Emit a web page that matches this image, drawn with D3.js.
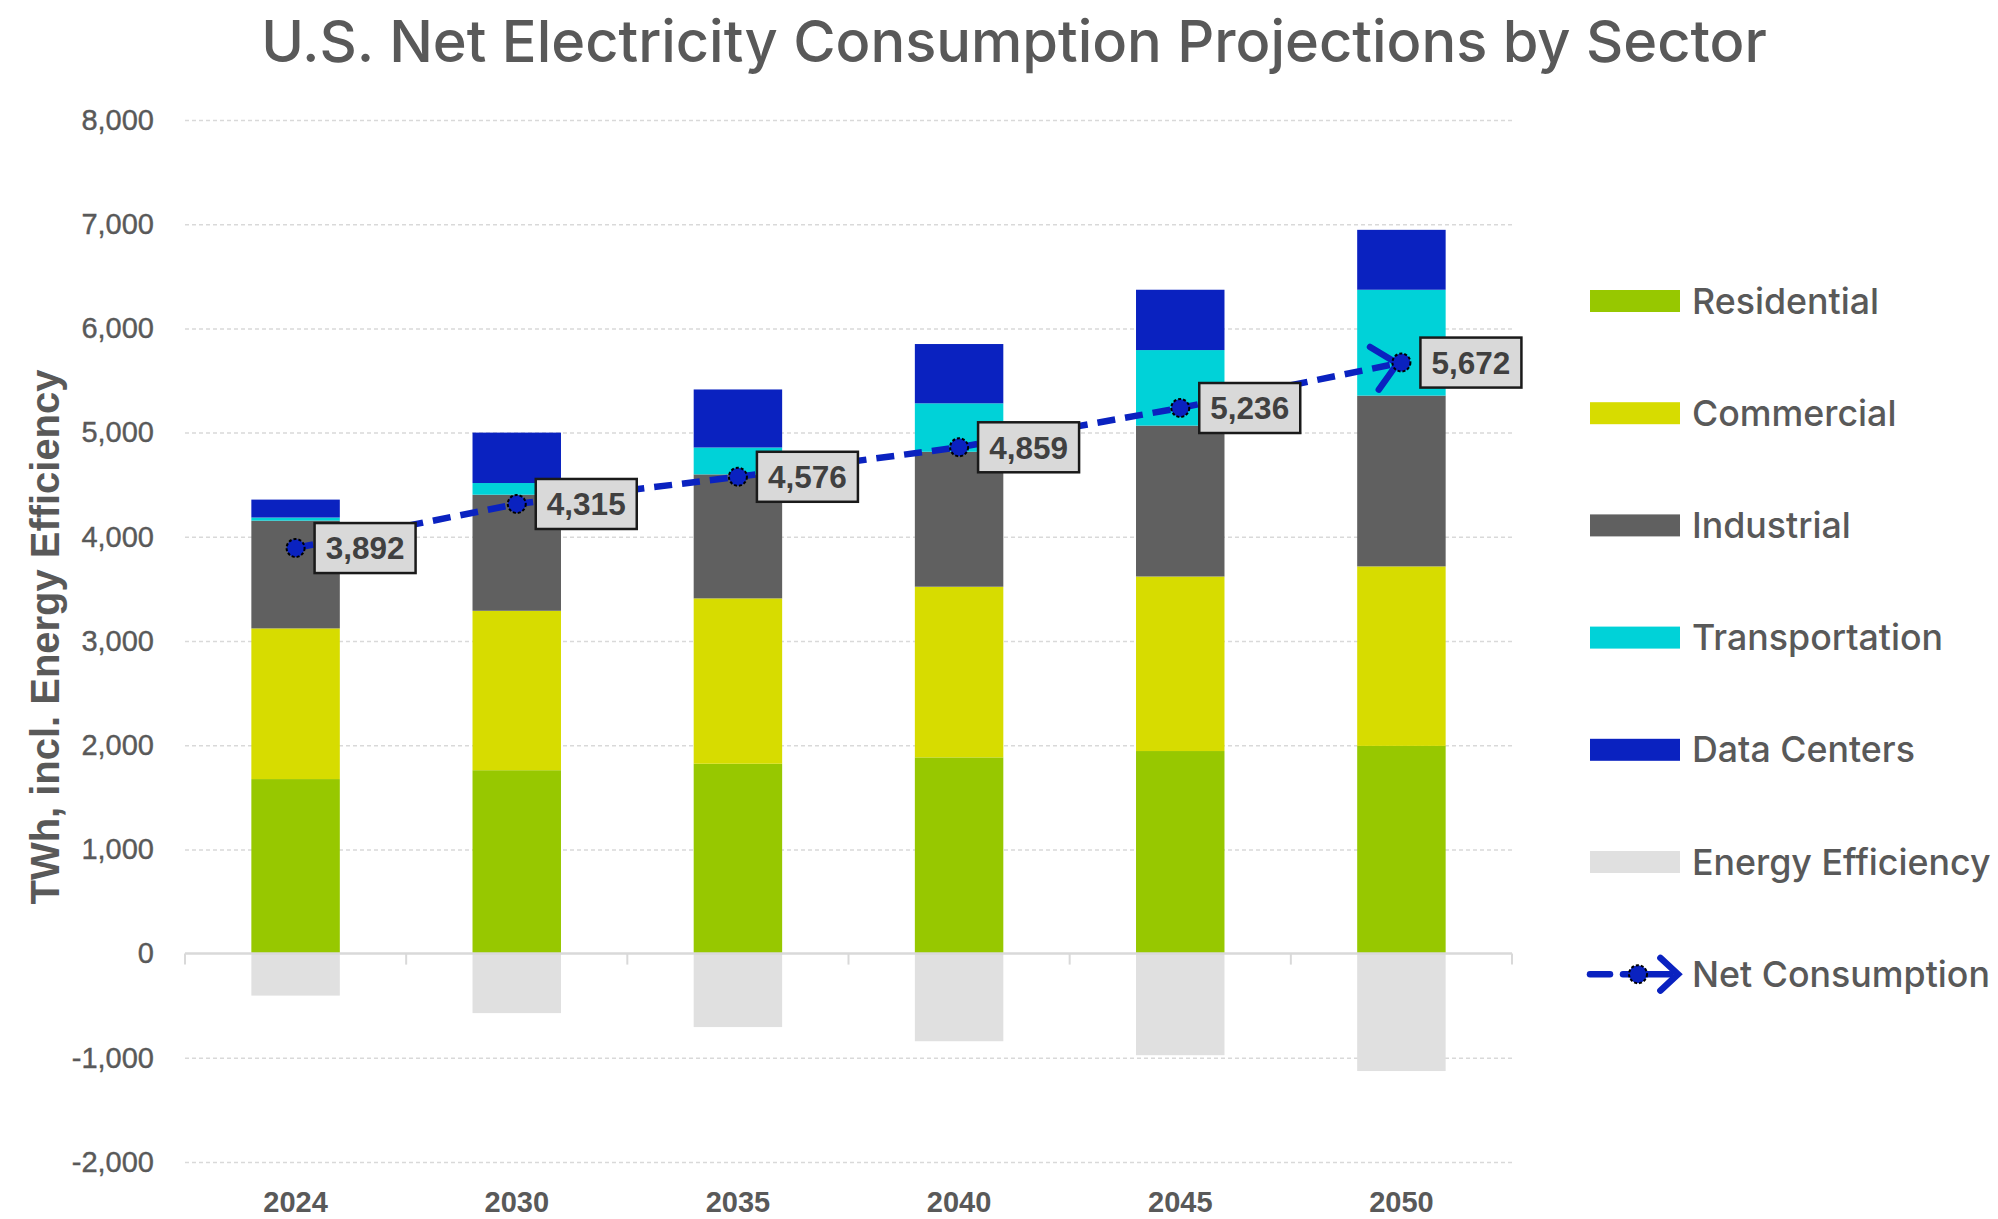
<!DOCTYPE html>
<html>
<head>
<meta charset="utf-8">
<script src="https://cdn.jsdelivr.net/npm/d3@7"></script>
<style>
  body { margin: 0; background: #fff; }
  svg { display: block; }
</style>
</head>
<body>
<div id="chart"></div>
<script>
// values (TWh)
var years = ["2024", "2030", "2035", "2040", "2045", "2050"];
var residential    = [1675, 1760, 1822, 1883, 1944, 1993];
var commercial     = [1446, 1530, 1587, 1638, 1675, 1723];
var industrial     = [1034, 1114, 1190, 1295, 1448, 1639];
var transportation = [30, 112, 258, 465, 725, 1016];
var dataCenters    = [172, 484, 557, 569, 579, 575];
var efficiency     = [-403, -571, -705, -841, -975, -1127];
var netConsumption = [3892, 4315, 4576, 4859, 5236, 5672];
var yTicks = [-2000, -1000, 0, 1000, 2000, 3000, 4000, 5000, 6000, 7000, 8000];

var sectors = ["Residential", "Commercial", "Industrial", "Transportation", "Data Centers"];
var colors = {
  "Residential": "#97c800",
  "Commercial": "#d7dc00",
  "Industrial": "#606060",
  "Transportation": "#00d2d8",
  "Data Centers": "#0a22c0",
  "Energy Efficiency": "#e0e0e0"
};
var lineColor = "#0a22c0";
var textGray = "#595959";
var fmt = function(v) { return d3.format(",")(v).replace("\u2212", "-"); };

function drawChart() {
  var W = 1998, H = 1219;
  var plotLeft = 185, plotRight = 1512, plotTop = 120, plotBottom = 1162;

  var rows = years.map(function(yr, i) {
    return {
      year: yr,
      "Residential": residential[i],
      "Commercial": commercial[i],
      "Industrial": industrial[i],
      "Transportation": transportation[i],
      "Data Centers": dataCenters[i],
      eff: efficiency[i],
      net: netConsumption[i]
    };
  });

  var svg = d3.select("#chart").append("svg")
    .attr("width", W).attr("height", H);

  var x = d3.scaleBand().domain(years).range([plotLeft, plotRight]);
  var y = d3.scaleLinear().domain([-2000, 8000]).range([plotBottom, plotTop]);
  var barW = x.bandwidth() * 0.4;
  function cx(yr) { return x(yr) + x.bandwidth() / 2; }

  // title
  var title = svg.append("text")
    .attr("x", 1014).attr("y", 62)
    .attr("text-anchor", "middle")
    .attr("font-family", "Inter, 'Open Sans', sans-serif")
    .attr("font-weight", 500)
    .attr("font-size", 56)
    .attr("fill", textGray)
    .text("U.S. Net Electricity Consumption Projections by Sector");
  fitWidth(title, 1506);

  // gridlines
  var grid = svg.append("g")
    .attr("transform", "translate(" + plotLeft + ",0)")
    .call(d3.axisLeft(y).tickValues(yTicks.filter(function(d) { return d !== 0; }))
      .tickSize(-(plotRight - plotLeft)).tickFormat(""));
  grid.select(".domain").remove();
  grid.selectAll("line")
    .attr("stroke", "#d9d9d9").attr("stroke-width", 1.5).attr("stroke-dasharray", "4,3");

  // y tick labels
  var yAxis = svg.append("g")
    .attr("transform", "translate(" + plotLeft + ",0)")
    .call(d3.axisLeft(y).tickValues(yTicks).tickSize(0).tickPadding(31).tickFormat(fmt));
  yAxis.select(".domain").remove();
  yAxis.selectAll("text")
    .attr("font-family", "'Liberation Sans', Arial, sans-serif")
    .attr("font-size", 29)
    .attr("fill", textGray)
    .attr("stroke", textGray)
    .attr("stroke-width", 0.4);

  // y axis title
  var yTitle = svg.append("text")
    .attr("transform", "translate(45,637) rotate(-90)")
    .attr("text-anchor", "middle")
    .attr("dy", "0.35em")
    .attr("font-family", "'Liberation Sans', Arial, sans-serif")
    .attr("font-weight", "bold")
    .attr("font-size", 32)
    .attr("fill", textGray)
    .text("TWh, incl. Energy Efficiency");
  fitWidth(yTitle, 535);

  // stacked bars
  var stack = d3.stack().keys(sectors)(rows);
  svg.append("g").selectAll("g")
    .data(stack).enter().append("g")
    .attr("fill", function(d) { return colors[d.key]; })
    .selectAll("rect")
    .data(function(d) { return d; }).enter().append("rect")
    .attr("x", function(d) { return cx(d.data.year) - barW / 2; })
    .attr("y", function(d) { return y(d[1]); })
    .attr("width", barW)
    .attr("height", function(d) { return y(d[0]) - y(d[1]); });

  // energy efficiency (negative)
  svg.append("g").selectAll("rect")
    .data(rows).enter().append("rect")
    .attr("x", function(d) { return cx(d.year) - barW / 2; })
    .attr("y", y(0))
    .attr("width", barW)
    .attr("height", function(d) { return y(d.eff) - y(0); })
    .attr("fill", colors["Energy Efficiency"]);

  // zero line with ticks at category boundaries
  svg.append("line")
    .attr("x1", plotLeft).attr("x2", plotRight)
    .attr("y1", y(0)).attr("y2", y(0))
    .attr("stroke", "#d9d9d9").attr("stroke-width", 2.5);
  var bounds = years.map(function(yr) { return x(yr); }).concat([plotRight]);
  svg.append("g").selectAll("line")
    .data(bounds).enter().append("line")
    .attr("x1", function(d) { return d; }).attr("x2", function(d) { return d; })
    .attr("y1", y(0)).attr("y2", y(0) + 11)
    .attr("stroke", "#d9d9d9").attr("stroke-width", 2);

  // x labels
  var xAxis = svg.append("g")
    .attr("transform", "translate(0," + plotBottom + ")")
    .call(d3.axisBottom(x).tickSize(0).tickPadding(29));
  xAxis.select(".domain").remove();
  xAxis.selectAll("text")
    .attr("font-family", "'Liberation Sans', Arial, sans-serif")
    .attr("font-weight", "bold")
    .attr("font-size", 29)
    .attr("fill", textGray);

  // net consumption line
  var line = d3.line()
    .x(function(d) { return cx(d.year); })
    .y(function(d) { return y(d.net); });
  svg.append("path")
    .datum(rows)
    .attr("d", line)
    .attr("fill", "none")
    .attr("stroke", lineColor)
    .attr("stroke-width", 6.5)
    .attr("stroke-dasharray", "18,10");

  // arrow head at the last point
  var pA = rows[rows.length - 2], pB = rows[rows.length - 1];
  var ang = Math.atan2(y(pB.net) - y(pA.net), cx(pB.year) - cx(pA.year));
  drawChevron(svg, cx(pB.year) - 4, y(pB.net) + 1, ang, 32, 6.5);

  // markers
  svg.append("g").selectAll("circle")
    .data(rows).enter().append("circle")
    .attr("cx", function(d) { return cx(d.year); })
    .attr("cy", function(d) { return y(d.net); })
    .attr("r", 9)
    .attr("fill", lineColor)
    .attr("stroke", "#000")
    .attr("stroke-width", 2)
    .attr("stroke-dasharray", "3,2");

  // data labels
  var lab = svg.append("g").selectAll("g")
    .data(rows).enter().append("g")
    .attr("transform", function(d) { return "translate(" + (cx(d.year) + 19) + "," + y(d.net) + ")"; });
  lab.append("rect")
    .attr("x", 0).attr("y", -25)
    .attr("width", 101).attr("height", 50)
    .attr("fill", "#d9d9d9")
    .attr("stroke", "#1a1a1a")
    .attr("stroke-width", 2.5);
  lab.append("text")
    .attr("x", 50.5).attr("y", 0).attr("dy", "0.36em")
    .attr("text-anchor", "middle")
    .attr("font-family", "'Liberation Sans', Arial, sans-serif")
    .attr("font-weight", "bold")
    .attr("font-size", 31.5)
    .attr("fill", "#404040")
    .text(function(d) { return fmt(d.net); });

  // legend
  var legendItems = sectors.concat(["Energy Efficiency", "Net Consumption"]);
  var leg = svg.append("g").selectAll("g")
    .data(legendItems).enter().append("g")
    .attr("transform", function(d, i) { return "translate(1590," + (301 + i * 112.2) + ")"; });
  leg.filter(function(d) { return d !== "Net Consumption"; })
    .append("rect")
    .attr("x", 0).attr("y", -11).attr("width", 90).attr("height", 22)
    .attr("fill", function(d) { return colors[d]; });
  var legText = leg.append("text")
    .attr("x", 102).attr("y", 0).attr("dy", "0.35em")
    .attr("font-family", "Inter, 'Open Sans', sans-serif")
    .attr("font-weight", 500)
    .attr("font-size", 34)
    .attr("fill", textGray)
    .text(function(d) { return d; });
  var netLeg = leg.filter(function(d) { return d === "Net Consumption"; });
  var ncText = legText.filter(function(d) { return d === "Net Consumption"; });
  var fsLeg = 34 * 298 / ncText.node().getComputedTextLength();
  legText.attr("font-size", fsLeg);
  netLeg.append("line")
    .attr("x1", 0).attr("x2", 20).attr("y1", 0).attr("y2", 0)
    .attr("stroke", lineColor).attr("stroke-width", 6.5).attr("stroke-linecap", "round");
  netLeg.append("line")
    .attr("x1", 33).attr("x2", 80).attr("y1", 0).attr("y2", 0)
    .attr("stroke", lineColor).attr("stroke-width", 6.5).attr("stroke-linecap", "round");
  drawChevron(netLeg, 88, 0, 0, 24, 6.5);
  netLeg.append("circle")
    .attr("cx", 48).attr("cy", 0).attr("r", 9)
    .attr("fill", lineColor).attr("stroke", "#000")
    .attr("stroke-width", 2).attr("stroke-dasharray", "3,2");
}

function drawChevron(g, tx, ty, a, len, sw) {
  var spread = Math.PI / 4.2;
  var p1 = [tx - len * Math.cos(a - spread), ty - len * Math.sin(a - spread)];
  var p2 = [tx - len * Math.cos(a + spread), ty - len * Math.sin(a + spread)];
  g.append("path")
    .attr("d", "M" + p1 + "L" + [tx, ty] + "L" + p2)
    .attr("fill", "none")
    .attr("stroke", lineColor)
    .attr("stroke-width", sw)
    .attr("stroke-linecap", "round")
    .attr("stroke-linejoin", "miter");
}

function fitWidth(sel, target) {
  var w = sel.node().getComputedTextLength();
  var fs = parseFloat(sel.attr("font-size"));
  sel.attr("font-size", fs * target / w);
}

drawChart();
</script>
</body>
</html>
